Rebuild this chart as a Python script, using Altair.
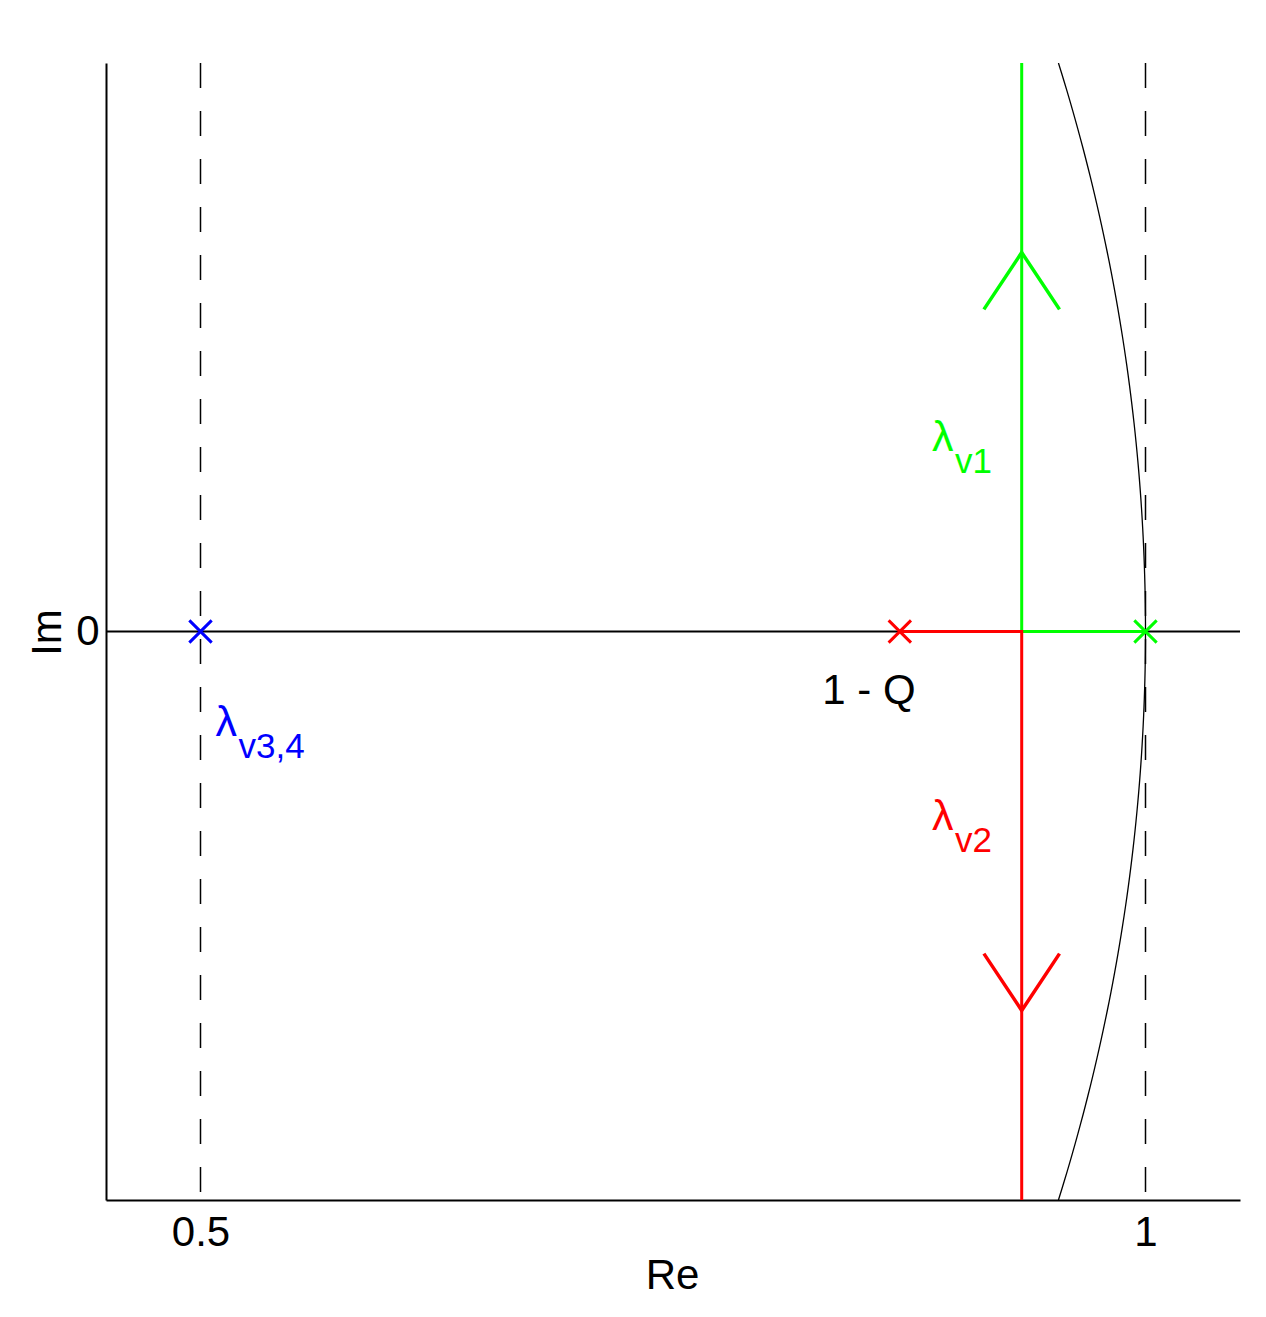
import altair as alt
import numpy as np
import pandas as pd

# ---- data ----
x_ticks = [0.5, 1.0]
y_ticks = [0.0]
x_domain = [0.45, 1.05]
y_domain = [-0.3, 0.3]

dashed_re = [0.5, 1.0]

# root locus branches (green: v1, red: v2)
locus_series = ["v1", "v1", "v1", "v2", "v2", "v2"]
locus_re = [1.0, 0.9345, 0.9345, 0.87, 0.9345, 0.9345]
locus_im = [0.0, 0.0, 0.3, 0.0, 0.0, -0.3]

# arrow heads
arrow_series = ["v1", "v1", "v1", "v2", "v2", "v2"]
arrow_re = [0.9145, 0.9345, 0.9545, 0.9145, 0.9345, 0.9545]
arrow_im = [0.17, 0.2, 0.17, -0.17, -0.2, -0.17]

# poles (x markers)
pole_series = ["v3,4", "v2", "v1"]
pole_re = [0.5, 0.87, 1.0]
pole_im = [0.0, 0.0, 0.0]

# labels
lam_series = ["v1", "v2", "v3,4"]
lam_re = [0.887, 0.887, 0.508]
lam_im = [0.0955, -0.1045, -0.0554]

q_label = "1 - Q"
q_re = [0.829]
q_im = [-0.0385]

# unit circle |z| = 1
circ_im = np.linspace(-0.3, 0.3, 121)
circ_re = np.sqrt(1 - circ_im ** 2)

series_domain = ["v1", "v2", "v3,4"]
series_colors = ["#00ff00", "#ff0000", "#0000ff"]

FONT = "Liberation Sans"

# ---- frames ----
locus_df = pd.DataFrame({"s": locus_series, "re": locus_re, "im": locus_im,
                         "o": list(range(len(locus_re)))})
arrow_df = pd.DataFrame({"s": arrow_series, "re": arrow_re, "im": arrow_im,
                         "o": list(range(len(arrow_re)))})
pole_df = pd.DataFrame({"s": pole_series, "re": pole_re, "im": pole_im})
lam_df = pd.DataFrame({"s": lam_series, "re": lam_re, "im": lam_im,
                       "lam": ["λ"] * len(lam_series)})
q_df = pd.DataFrame({"t": [q_label], "re": q_re, "im": q_im})
circ_df = pd.DataFrame({"re": circ_re, "im": circ_im, "o": list(range(len(circ_im)))})
dash_df = pd.DataFrame({"re": dashed_re})
zero_df = pd.DataFrame({"im": [0.0]})

xs = alt.Scale(domain=x_domain, nice=False, zero=False)
ys = alt.Scale(domain=y_domain, nice=False, zero=False)
col = alt.Color("s:N", scale=alt.Scale(domain=series_domain, range=series_colors), legend=None)

x_axis = alt.Axis(values=x_ticks, format="~g", title="Re", ticks=False, tickSize=0,
                  grid=False, labelFontSize=42, labelFont=FONT, labelColor="black",
                  labelPadding=12, titleFontSize=42, titleFont=FONT, titleFontWeight="normal",
                  titleColor="black", titleX=566, titleY=88, titleBaseline="alphabetic",
                  domainColor="black", domainWidth=2)
y_axis = alt.Axis(values=y_ticks, format="~g", title="Im", ticks=False, tickSize=0,
                  grid=False, labelFontSize=42, labelFont=FONT, labelColor="black",
                  labelPadding=7, titleFontSize=42, titleFont=FONT, titleFontWeight="normal",
                  titleColor="black", titleX=-46, titleY=569, titleAngle=-90,
                  titleBaseline="alphabetic", titleAlign="center",
                  domainColor="black", domainWidth=2)

base_x = alt.X("re:Q", scale=xs, axis=x_axis)
base_y = alt.Y("im:Q", scale=ys, axis=y_axis)

dashed = alt.Chart(dash_df).mark_rule(color="black", strokeWidth=1.5, strokeDash=[25, 23]).encode(
    x=alt.X("re:Q", scale=xs, axis=x_axis))

zero = alt.Chart(zero_df).mark_rule(color="black", strokeWidth=2).encode(
    y=alt.Y("im:Q", scale=ys, axis=y_axis))

circle = alt.Chart(circ_df).mark_line(color="black", strokeWidth=1.3, clip=True).encode(
    x=base_x, y=base_y, order="o:Q")

locus = alt.Chart(locus_df).mark_line(strokeWidth=3, strokeJoin="miter", clip=True).encode(
    x=base_x, y=base_y, color=col, detail="s:N", order="o:Q")

arrows = alt.Chart(arrow_df).mark_line(strokeWidth=3.5, strokeJoin="miter").encode(
    x=base_x, y=base_y, color=col, detail="s:N", order="o:Q")

poles = alt.Chart(pole_df).mark_point(shape="M-1,-1L1,1M-1,1L1,-1", size=500,
                                      strokeWidth=3, filled=False, opacity=1).encode(
    x=base_x, y=base_y, color=col)

lam = alt.Chart(lam_df).mark_text(align="left", baseline="alphabetic", fontSize=43,
                                  font=FONT).encode(
    x=base_x, y=base_y, text="lam:N", color=col)

sub = alt.Chart(lam_df).mark_text(align="left", baseline="alphabetic", fontSize=35,
                                  font=FONT, dx=23, dy=22).encode(
    x=base_x, y=base_y, text="s:N", color=col)

qtext = alt.Chart(q_df).mark_text(align="left", baseline="alphabetic", fontSize=42,
                                  font=FONT, color="black").encode(
    x=base_x, y=base_y, text="t:N")

chart = alt.layer(dashed, zero, circle, locus, arrows, poles, lam, sub, qtext).properties(
    width=1134, height=1137,
    background="white",
    autosize=alt.AutoSizeParams(type="none"),
    padding={"left": 98, "top": 55, "right": 18, "bottom": 109},
).configure_view(stroke=None, strokeWidth=0)

chart.save("out.html", embed_options={"renderer": "svg", "actions": False})
